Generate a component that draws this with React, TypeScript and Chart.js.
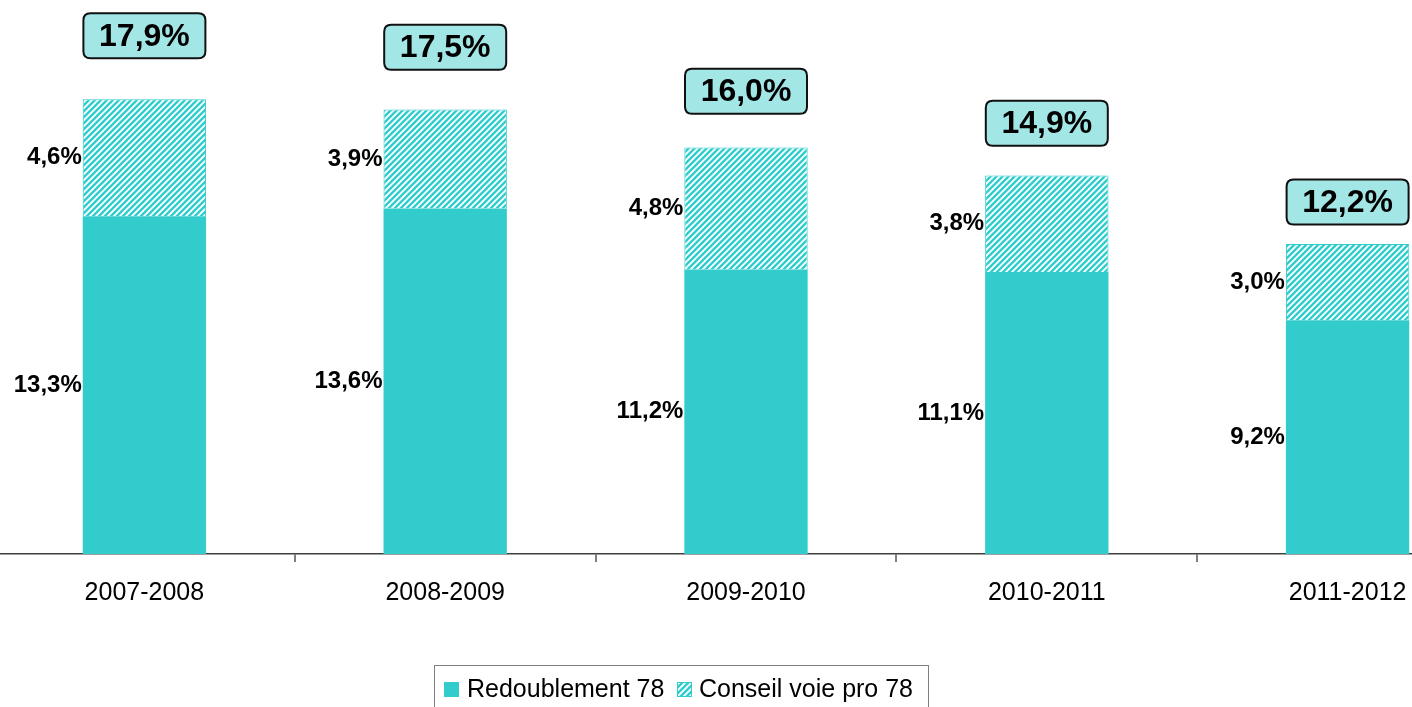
import React, { useEffect, useRef } from "react";
import { Chart, registerables } from "chart.js";

Chart.register(...registerables);

const categories = ["2007-2008", "2008-2009", "2009-2010", "2010-2011", "2011-2012"];
const redoublement = [13.3, 13.6, 11.2, 11.1, 9.2];
const conseil = [4.6, 3.9, 4.8, 3.8, 3.0];
const totals = [17.9, 17.5, 16.0, 14.9, 12.2];
const seriesNames = ["Redoublement 78", "Conseil voie pro 78"];

const TEAL = "#33CCCC";
const FONT = "'Liberation Sans', Arial, sans-serif";
const OFFSET_X = -6;

function fmt(v: number) {
  return v.toFixed(1).replace(".", ",") + "%";
}

function makeHatch(): CanvasPattern | string {
  const c = document.createElement("canvas");
  c.width = 6;
  c.height = 6;
  const g = c.getContext("2d");
  if (!g) return TEAL;
  g.fillStyle = TEAL;
  g.fillRect(0, 0, 6, 6);
  g.strokeStyle = "#ffffff";
  g.lineWidth = 1.8;
  g.beginPath();
  g.moveTo(-1, 1);
  g.lineTo(1, -1);
  g.moveTo(0, 6);
  g.lineTo(6, 0);
  g.moveTo(5, 7);
  g.lineTo(7, 5);
  g.stroke();
  const p = g.createPattern(c, "repeat");
  return p || TEAL;
}

function roundRect(ctx: CanvasRenderingContext2D, x: number, y: number, w: number, h: number, r: number) {
  ctx.beginPath();
  ctx.moveTo(x + r, y);
  ctx.lineTo(x + w - r, y);
  ctx.quadraticCurveTo(x + w, y, x + w, y + r);
  ctx.lineTo(x + w, y + h - r);
  ctx.quadraticCurveTo(x + w, y + h, x + w - r, y + h);
  ctx.lineTo(x + r, y + h);
  ctx.quadraticCurveTo(x, y + h, x, y + h - r);
  ctx.lineTo(x, y + r);
  ctx.quadraticCurveTo(x, y, x + r, y);
  ctx.closePath();
}

export default function App() {
  const ref = useRef<HTMLCanvasElement | null>(null);

  useEffect(() => {
    if (!ref.current) return;
    const hatch = makeHatch();

    const labelsPlugin = {
      id: "customLabels",
      afterDatasetsDraw(chart: any) {
        const ctx: CanvasRenderingContext2D = chart.ctx;
        ctx.save();
        // segment labels
        chart.data.datasets.forEach((ds: any, di: number) => {
          const meta = chart.getDatasetMeta(di);
          meta.data.forEach((bar: any, i: number) => {
            const left = bar.x - bar.width / 2;
            const cy = (bar.y + bar.base) / 2;
            ctx.font = `bold 24px ${FONT}`;
            ctx.fillStyle = "#000000";
            ctx.textAlign = "right";
            ctx.textBaseline = "middle";
            ctx.fillText(fmt(ds.data[i]), left - 1, cy);
          });
        });
        // totals
        const topMeta = chart.getDatasetMeta(chart.data.datasets.length - 1);
        topMeta.data.forEach((bar: any, i: number) => {
          const w = 122;
          const h = 45;
          const cx = bar.x;
          const gap = 42 + (totals[i] - 12.2) * 3.8;
          const cy = bar.y - gap;
          roundRect(ctx, cx - w / 2, cy - h / 2, w, h, 7);
          ctx.fillStyle = "#A3E6E6";
          ctx.fill();
          ctx.lineWidth = 2;
          ctx.strokeStyle = "#111111";
          ctx.stroke();
          ctx.font = `bold 32px ${FONT}`;
          ctx.fillStyle = "#000000";
          ctx.textAlign = "center";
          ctx.textBaseline = "middle";
          ctx.fillText(fmt(totals[i]), cx, cy + 1);
        });
        // legend
        const lx = 434 - OFFSET_X;
        const ly = 665;
        const lw = 494;
        ctx.fillStyle = "#ffffff";
        ctx.fillRect(lx, ly, lw, 60);
        ctx.strokeStyle = "#808080";
        ctx.lineWidth = 1;
        ctx.strokeRect(lx + 0.5, ly + 0.5, lw, 60);
        ctx.fillStyle = TEAL;
        ctx.fillRect(444 - OFFSET_X, 682, 15, 15);
        ctx.fillStyle = hatch as any;
        ctx.fillRect(677 - OFFSET_X, 682, 15, 15);
        ctx.strokeStyle = TEAL;
        ctx.strokeRect(677.5 - OFFSET_X, 682.5, 14, 14);
        ctx.font = `25px ${FONT}`;
        ctx.fillStyle = "#000000";
        ctx.textAlign = "left";
        ctx.textBaseline = "alphabetic";
        ctx.fillText(seriesNames[0], 467 - OFFSET_X, 697);
        ctx.fillText(seriesNames[1], 699 - OFFSET_X, 697);
        ctx.restore();
      },
    };

    const chart = new Chart(ref.current, {
      type: "bar",
      data: {
        labels: categories,
        datasets: [
          {
            label: seriesNames[0],
            data: redoublement,
            backgroundColor: TEAL,
            borderWidth: 0,
            categoryPercentage: 1,
            barPercentage: 0.41,
          },
          {
            label: seriesNames[1],
            data: conseil,
            backgroundColor: hatch as any,
            borderColor: TEAL,
            borderWidth: 1,
            categoryPercentage: 1,
            barPercentage: 0.41,
          },
        ],
      },
      options: {
        animation: false,
        responsive: true,
        maintainAspectRatio: false,
        layout: { padding: { top: 46, left: 0, right: 0, bottom: 0 } },
        plugins: {
          legend: { display: false },
          tooltip: { enabled: false },
        },
        scales: {
          x: {
            stacked: true,
            grid: {
              offset: true,
              drawOnChartArea: false,
              tickLength: 8,
              color: "#808080",
              lineWidth: 2,
            },
            border: { color: "#404040", width: 1.5 },
            ticks: {
              color: "#000000",
              font: { family: FONT, size: 25 },
              padding: 16,
              maxRotation: 0,
            },
            afterFit: (scale: any) => {
              scale.height = 153;
            },
          },
          y: {
            stacked: true,
            display: false,
            min: 0,
            max: 20,
          },
        },
      },
      plugins: [labelsPlugin],
    });
    return () => chart.destroy();
  }, []);

  return (
    <div
      style={{
        position: "fixed",
        left: 0,
        top: 0,
        width: 1412,
        height: 707,
        overflow: "hidden",
        background: "#ffffff",
      }}
    >
      <div style={{ position: "absolute", left: OFFSET_X, top: 0, width: 1504, height: 707 }}>
        <canvas ref={ref} />
      </div>
    </div>
  );
}
